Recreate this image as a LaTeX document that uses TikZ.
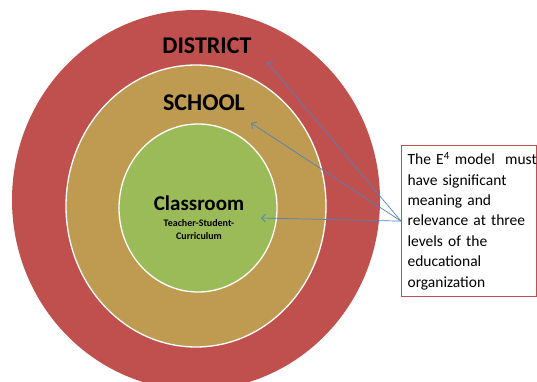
\documentclass[tikz,border=0pt]{standalone}
\usepackage{fontspec}
\setmainfont{Carlito}
\usetikzlibrary{arrows.meta,shapes.geometric}
\definecolor{distred}{RGB}{192,80,77}
\definecolor{schooltan}{RGB}{191,155,82}
\definecolor{classgreen}{RGB}{155,187,89}
\definecolor{arrowblue}{RGB}{79,129,189}
\tikzset{
  ring/.style={ellipse, draw=white, line width=1.3pt, inner sep=0pt},
  level/.style={font=\bfseries\fontsize{24}{28}\selectfont, inner sep=0pt},
  pointer/.style={draw=arrowblue, line width=0.7pt, -{Straight Barb[length=4pt,width=8pt]}}
}
\begin{document}
\begin{tikzpicture}[x=1pt,y=-1pt]
\useasboundingbox (0,0) rectangle (537,382);
\node[ellipse, fill=distred, minimum width=368pt, minimum height=380pt, inner sep=0pt] (district) at (196,200) {};
\node[ring, fill=schooltan, minimum width=260pt, minimum height=282pt] (school) at (196,206) {};
\node[ring, fill=classgreen, minimum width=158pt, minimum height=168pt] (classroom) at (198,208) {};
\node[level] (tdistrict) at (207,46) {DISTRICT};
\node[level] (tschool) at (204,103) {SCHOOL};
\node[level, font=\bfseries\fontsize{21}{25}\selectfont] (tclass) at (199,203) {Classroom};
\node[align=center, inner sep=0pt, font=\bfseries\fontsize{10}{13}\selectfont] (tsub) at (199,229.5) {Teacher-Student-\\Curriculum};
\node[draw=distred, line width=1.2pt, fill=white, anchor=north west, minimum width=135pt, minimum height=151pt, text width=123pt, inner xsep=6pt, align=left, font=\fontsize{15.5}{20.4}\selectfont] (note) at (401,145) {\mbox{The E\textsuperscript{4} model\ \ must}\\have significant\\meaning and\\relevance at three\\levels of the\\educational\\organization};
\coordinate (pd) at (267,62);
\coordinate (ps) at (251,123);
\coordinate (pc) at (261,218);
\draw[pointer] (note.west) -- (pd);
\draw[pointer] (note.west) -- (ps);
\draw[pointer] (note.west) -- (pc);
\end{tikzpicture}
\end{document}
